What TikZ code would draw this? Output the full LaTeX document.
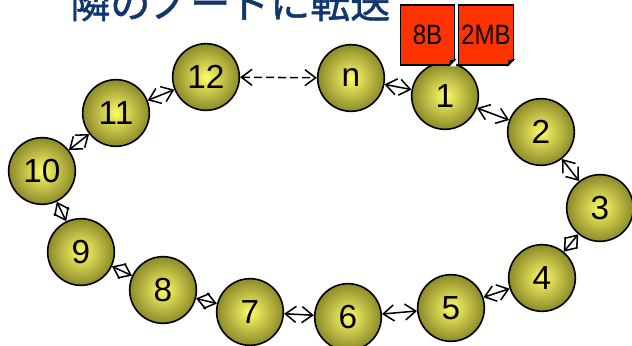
\documentclass[tikz,border=0pt]{standalone}
\usepackage{fontspec}
\setmainfont{Liberation Sans}
\newfontfamily\jpfont[FakeBold=1.2]{Noto Sans CJK JP}
\newfontfamily\docfont[FakeStretch=0.86]{Liberation Sans}
\usepackage{xcolor}
\usetikzlibrary{arrows.meta,positioning,calc}
\definecolor{ballIn}{RGB}{252,252,105}
\definecolor{ballOut}{RGB}{140,138,40}
\definecolor{docRed}{RGB}{255,51,0}
\definecolor{titleBlue}{RGB}{15,55,110}
\tikzset{%
  ball/.style={circle, draw, line width=1.2pt, minimum size=50pt, inner sep=0pt,
    inner color=ballIn, outer color=ballOut, font=\fontsize{25}{25}\selectfont},
  doc/.style={draw, line width=0.9pt, fill=docRed, minimum width=41pt,
    minimum height=45pt, inner sep=0pt, font=\docfont\fontsize{21}{21}\selectfont},
  link/.style={line width=1.15pt,
    {Straight Barb[length=8pt,width=12pt]}-{Straight Barb[length=8pt,width=12pt]}},
  fold/.style={fill=black, line width=0.6pt}
}

\begin{document}
\begin{tikzpicture}[x=0.75pt, y=-0.75pt]
\useasboundingbox (0,0) rectangle (632,346);
\clip (0,0) rectangle (632,346);

% title, cut at the top
\node [anchor=base west, inner sep=0pt, text=titleBlue,
  font=\jpfont\fontsize{30}{30}\selectfont] (titleNode) at (70,18) {隣のノードに転送};

% ring of nodes
\node [ball] (aNode) at (445,96)  {1};
\node [ball] (bNode) at (541,132) {2};
\node [ball] (cNode) at (600,208) {3};
\node [ball] (dNode) at (542,278) {4};
\node [ball] (eNode) at (451,308) {5};
\node [ball] (fNode) at (348,317) {6};
\node [ball] (gNode) at (250,312) {7};
\node [ball] (hNode) at (163,290) {8};
\node [ball] (iNode) at (81,252)  {9};
\node [ball] (jNode) at (42,171)  {10};
\node [ball] (kNode) at (116,113) {11};
\node [ball] (lNode) at (206,77)  {12};
\node [ball] (nNode) at (351,78)  {n};

% data on node 1
\node [doc] (smallDoc) at (427.5,35) {8B};
\node [doc] (bigDoc) at (486,35) {2MB};
\fill[white] ($(smallDoc.south east)+(-6,0.8)$) -- ($(smallDoc.south east)+(0.8,0.8)$) -- ($(smallDoc.south east)+(0.8,-6)$) -- cycle;
\filldraw[fold] ($(smallDoc.south east)+(-6,0)$) -- ($(smallDoc.south east)+(0,-6)$) -- ($(smallDoc.south east)+(-5,-5)$) -- cycle;
\fill[white] ($(bigDoc.south east)+(-6,0.8)$) -- ($(bigDoc.south east)+(0.8,0.8)$) -- ($(bigDoc.south east)+(0.8,-6)$) -- cycle;
\filldraw[fold] ($(bigDoc.south east)+(-6,0)$) -- ($(bigDoc.south east)+(0,-6)$) -- ($(bigDoc.south east)+(-5,-5)$) -- cycle;

% links
\draw[link, dash pattern=on 6pt off 3pt] (lNode) -- (nNode);
\draw[link] (nNode) -- (aNode);
\draw[link] (aNode) -- (bNode);
\draw[link] (bNode) -- (cNode);
\draw[link] (cNode) -- (dNode);
\draw[link] (dNode) -- (eNode);
\draw[link] (eNode) -- (fNode);
\draw[link] (fNode) -- (gNode);
\draw[link] (gNode) -- (hNode);
\draw[link] (hNode) -- (iNode);
\draw[link] (iNode) -- (jNode);
\draw[link] (jNode) -- (kNode);
\draw[link] (kNode) -- (lNode);
\end{tikzpicture}
\end{document}
